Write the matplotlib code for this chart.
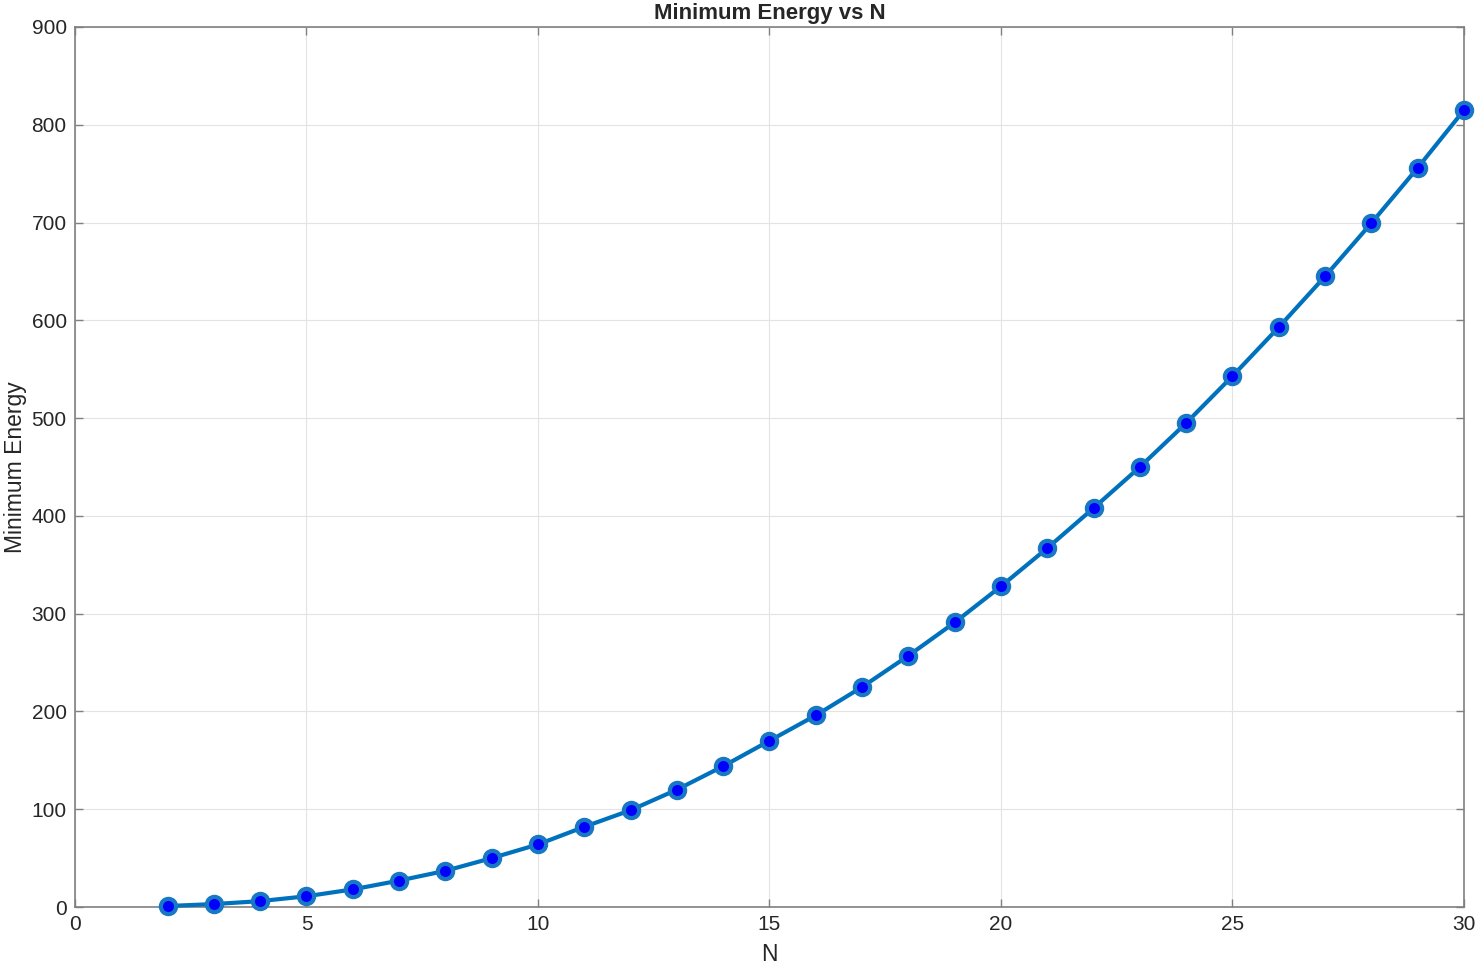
import numpy as np
import matplotlib
matplotlib.use("Agg")
import matplotlib.pyplot as plt

plt.rcParams['font.family'] = ['Liberation Sans', 'DejaVu Sans']

n_vals = np.arange(2, 31)
min_energy = [1, 3, 6, 11, 18, 27, 37, 50, 64, 82, 99, 120, 144, 170, 196,
              225, 257, 291, 328, 367, 408, 450, 495, 543, 593, 645, 699.5,
              756, 815]

fig = plt.figure(figsize=(14.78, 9.63), dpi=100)
ax = fig.add_axes([75 / 1478, 1 - 907 / 963, (1464 - 75) / 1478, (907 - 27) / 963])

ax.plot(n_vals, min_energy, '-o', color='#0072BD', linewidth=3,
        markersize=11, markerfacecolor='#0000FF', markeredgecolor='#1878C4',
        markeredgewidth=3, zorder=3, clip_on=False)

ax.set_xlim(0, 30)
ax.set_ylim(0, 900)
ax.set_xticks(np.arange(0, 31, 5))
ax.set_yticks(np.arange(0, 901, 100))
ax.grid(True, color='#e3e3e3', linewidth=0.8)
ax.set_axisbelow(True)
for sp in ax.spines.values():
    sp.set_color('#808080')
    sp.set_linewidth(1.2)
ax.tick_params(direction='in', length=6, width=1, color='#808080',
               labelsize=15, labelcolor='#262626', top=True, right=True, pad=6)

ax.set_xlabel('N', fontsize=16.5, color='#262626', labelpad=6)
ax.set_ylabel('Minimum Energy', fontsize=16.5, color='#262626', labelpad=3)
ax.set_title('Minimum Energy vs N', fontsize=16, fontweight='bold',
             color='#262626', pad=5.5)

fig.savefig('out.png', dpi=100)
